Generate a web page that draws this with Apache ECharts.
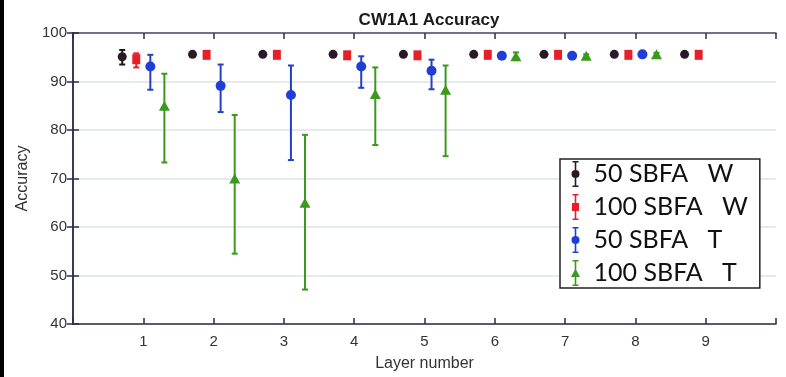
<!DOCTYPE html>
<html>
<head>
<meta charset="utf-8">
<script src="https://cdn.jsdelivr.net/npm/echarts@6/dist/echarts.min.js"></script>
<style>
  html, body { margin: 0; padding: 0; background: #fff; }
  #chart { width: 786px; height: 377px; }
</style>
</head>
<body>
<div id="chart"></div>
<script>
// layers on the x axis
const layers = [1, 2, 3, 4, 5, 6, 7, 8, 9];

// 50 SBFA W (black circles)
const w50Mean = [95.1, 95.6, 95.6, 95.6, 95.6, 95.6, 95.6, 95.6, 95.6];
const w50Low  = [93.5, 95.4, 95.4, 95.4, 95.4, 95.4, 95.4, 95.4, 95.4];
const w50High = [96.5, 95.8, 95.8, 95.8, 95.8, 95.8, 95.8, 95.8, 95.8];

// 100 SBFA W (red squares)
const w100Mean = [94.6, 95.5, 95.5, 95.4, 95.4, 95.5, 95.5, 95.5, 95.5];
const w100Low  = [92.9, 95.0, 95.1, 95.2, 95.2, 95.3, 95.3, 95.3, 95.3];
const w100High = [95.8, 96.1, 95.9, 95.7, 95.7, 95.7, 95.7, 95.7, 95.7];

// 50 SBFA T (blue circles)
const t50Mean = [93.1, 89.1, 87.2, 93.1, 92.2, 95.3, 95.3, 95.6, null];
const t50Low  = [88.3, 83.7, 73.8, 88.7, 88.4, 95.0, 95.0, 95.3, null];
const t50High = [95.5, 93.5, 93.3, 95.2, 94.5, 95.6, 95.6, 95.9, null];

// 100 SBFA T (green triangles)
const t100Mean = [85.0, 70.0, 65.0, 87.4, 88.3, 95.2, 95.3, 95.6, null];
const t100Low  = [73.3, 54.5, 47.1, 76.9, 74.6, 94.4, 95.0, 95.3, null];
const t100High = [91.6, 83.1, 79.0, 92.9, 93.3, 96.0, 95.6, 95.9, null];

const groups = [
  { name: '50 SBFA   W',  offset: -0.3, mean: w50Mean,  low: w50Low,  high: w50High,
    color: '#2a1a28', bar: '#1a1a1a', symbol: 'circle', size: 9,
    icon: 'path://M2,0H8V1.6H2Z M4.2,0H5.8V26H4.2Z M2,24.4H8V26H2Z M1,13A4,4 0 1 1 9,13A4,4 0 1 1 1,13Z' },
  { name: '100 SBFA   W', offset: -0.1, mean: w100Mean, low: w100Low, high: w100High,
    color: '#e5202a', bar: '#e5202a', symbol: 'rect', size: [8, 10],
    icon: 'path://M2,0H8V1.6H2Z M4.2,0H5.8V26H4.2Z M2,24.4H8V26H2Z M1.5,9H8.5V17H1.5Z' },
  { name: '50 SBFA   T',  offset: 0.1, mean: t50Mean,  low: t50Low,  high: t50High,
    color: '#1f3ed8', bar: '#2440c4', symbol: 'circle', size: 10,
    icon: 'path://M2,0H8V1.6H2Z M4.2,0H5.8V26H4.2Z M2,24.4H8V26H2Z M1,13A4,4 0 1 1 9,13A4,4 0 1 1 1,13Z' },
  { name: '100 SBFA   T', offset: 0.3, mean: t100Mean, low: t100Low, high: t100High,
    color: '#3b9a1e', bar: '#3b9a1e', symbol: 'triangle', size: [11, 10],
    icon: 'path://M2,0H8V1.6H2Z M4.2,0H5.8V26H4.2Z M2,24.4H8V26H2Z M5,8.5L9.5,17H0.5Z' },
];

function errRender(color) {
  return function (params, api) {
    const x = api.value(0);
    const top = api.coord([x, api.value(2)]);
    const bot = api.coord([x, api.value(1)]);
    const w = 3;
    const style = { stroke: color, lineWidth: 2 };
    return {
      type: 'group',
      children: [
        { type: 'line', shape: { x1: top[0], y1: top[1], x2: bot[0], y2: bot[1] }, style },
        { type: 'line', shape: { x1: top[0] - w, y1: top[1], x2: top[0] + w, y2: top[1] }, style },
        { type: 'line', shape: { x1: bot[0] - w, y1: bot[1], x2: bot[0] + w, y2: bot[1] }, style },
      ],
    };
  };
}

const series = [];
groups.forEach((g) => {
  const errData = [];
  const ptData = [];
  layers.forEach((l, i) => {
    if (g.mean[i] == null) return;
    errData.push([l + g.offset, g.low[i], g.high[i]]);
    ptData.push([l + g.offset, g.mean[i]]);
  });
  series.push({
    name: g.name,
    type: 'custom',
    renderItem: errRender(g.bar),
    data: errData,
    itemStyle: { color: g.color },
    z: 2,
    silent: true,
  });
  series.push({
    name: g.name,
    type: 'scatter',
    symbol: g.symbol,
    symbolSize: g.size,
    data: ptData,
    itemStyle: { color: g.color, opacity: 1 },
    z: 3,
  });
});

const axisColor = '#2c2c44';
const labelColor = '#333';
const chart = echarts.init(document.getElementById('chart'));
chart.setOption({
  animation: false,
  backgroundColor: '#fff',
  title: {
    text: 'CW1A1 Accuracy',
    left: 424, top: 7, textAlign: 'center',
    textStyle: { fontFamily: 'Liberation Sans', fontWeight: 'bold', fontSize: 17, color: '#1a1a1a' },
  },
  graphic: [{ type: 'rect', left: 0, top: 0, shape: { width: 4, height: 377 }, style: { fill: '#000' } }],
  grid: { left: 73, right: 10, top: 33, bottom: 51 },
  legend: {
    orient: 'vertical',
    left: 560, top: 159,
    data: groups.map((g) => ({ name: g.name, icon: g.icon })),
    itemWidth: 10, itemHeight: 26, itemGap: 7,
    padding: [2, 12, 2, 11],
    borderColor: '#222', borderWidth: 1.5,
    backgroundColor: '#fff',
    textStyle: { fontFamily: 'Lato', fontSize: 25, color: '#111', padding: [0, 0, 0, 8] },
    selectedMode: false,
  },
  xAxis: [
    {
      type: 'value', min: 0, max: 10, interval: 1,
      name: 'Layer number', nameLocation: 'middle', nameGap: 32,
      nameTextStyle: { fontFamily: 'Liberation Sans', fontSize: 16, color: labelColor },
      axisLine: { lineStyle: { color: axisColor, width: 1.5 } },
      axisTick: { inside: true, length: 6, lineStyle: { color: axisColor, width: 1.5 } },
      axisLabel: {
        fontFamily: 'Liberation Sans', fontSize: 15, color: labelColor, margin: 10,
        formatter: (v) => (v >= 1 && v <= 9 ? String(v) : ''),
      },
      splitLine: { show: false },
    },
    {
      type: 'value', position: 'top', min: 0, max: 10, interval: 1,
      axisLine: { lineStyle: { color: '#4a4a6a', width: 1.5 } },
      axisTick: { inside: true, length: 6, lineStyle: { color: axisColor, width: 1.5 } },
      axisLabel: { show: false },
      splitLine: { show: false },
    },
  ],
  yAxis: [
    {
      type: 'value', min: 40, max: 100, interval: 10,
      name: 'Accuracy', nameLocation: 'middle', nameGap: 36, nameRotate: 90,
      nameTextStyle: { fontFamily: 'Liberation Sans', fontSize: 16, color: labelColor },
      axisLine: { show: true, lineStyle: { color: axisColor, width: 1.5 } },
      axisTick: { show: true, inside: true, length: 6, lineStyle: { color: axisColor, width: 1.5 } },
      axisLabel: { fontFamily: 'Liberation Sans', fontSize: 15, color: labelColor, margin: 6 },
      splitLine: { show: true, lineStyle: { color: '#dde3ee', width: 1.5 } },
    },
    {
      type: 'value', position: 'right', min: 40, max: 100, interval: 10,
      axisLine: { show: true, lineStyle: { color: axisColor, width: 1.5 } },
      axisTick: { show: true, inside: true, length: 6, lineStyle: { color: axisColor, width: 1.5 } },
      axisLabel: { show: false },
      splitLine: { show: false },
    },
  ],
  series,
});
</script>
</body>
</html>
